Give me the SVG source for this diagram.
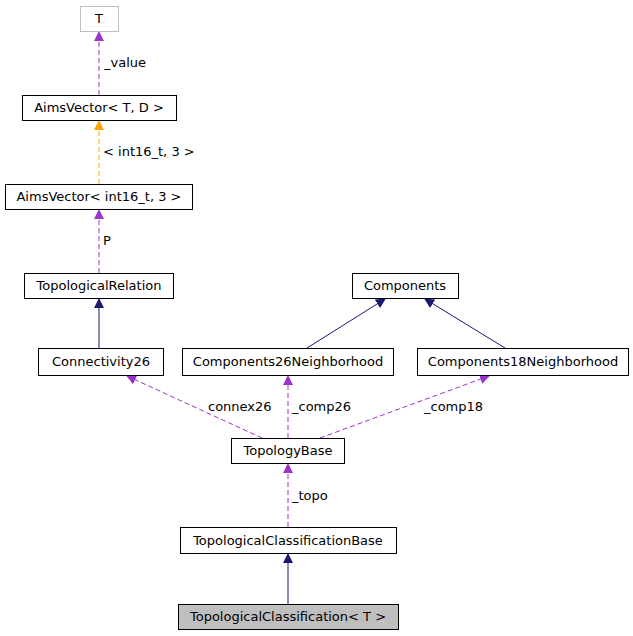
<svg xmlns="http://www.w3.org/2000/svg" width="633" height="636" viewBox="0 0 633 636">
<style>
text{font-family:"DejaVu Sans",sans-serif;font-size:13px;fill:#000}
.n{fill:#fff;stroke:#000;stroke-width:1}
.c{text-anchor:middle}
.p{stroke:#9a32cd;fill:none;stroke-dasharray:5,3}
.o{stroke:#ffa500;fill:none;stroke-dasharray:5,3}
.s{stroke:#191970;fill:none}
</style>
<defs>
<marker id="mp" markerWidth="10" markerHeight="10" refX="9" refY="5" orient="auto" markerUnits="userSpaceOnUse"><path d="M0,0 L10,5 L0,10 z" fill="#9a32cd"/></marker>
<marker id="mo" markerWidth="10" markerHeight="10" refX="9" refY="5" orient="auto" markerUnits="userSpaceOnUse"><path d="M0,0 L10,5 L0,10 z" fill="#ffa500"/></marker>
<marker id="ms" markerWidth="10" markerHeight="10" refX="9" refY="5" orient="auto" markerUnits="userSpaceOnUse"><path d="M0,0 L10,5 L0,10 z" fill="#191970"/></marker>
</defs>
<rect width="633" height="636" fill="#fff"/>
<g id="connectors">
<path class="p" d="M99,95 L99,32" marker-end="url(#mp)"/><text x="104" y="67">_value</text>
<path class="o" d="M99,184 L99,121" marker-end="url(#mo)"/><text x="103" y="156">&lt; int16_t, 3 &gt;</text>
<path class="p" d="M99,273 L99,210" marker-end="url(#mp)"/><text x="103" y="245">P</text>
<path class="s" d="M99,348 L99,299" marker-end="url(#ms)"/>
<path class="s" d="M307,348 L385,299" marker-end="url(#ms)"/>
<path class="s" d="M505,348 L425,299" marker-end="url(#ms)"/>
<path class="p" d="M262,438 L127,376" marker-end="url(#mp)"/><text x="208" y="411">connex26</text>
<path class="p" d="M288,438 L288,376" marker-end="url(#mp)"/><text x="292" y="411">_comp26</text>
<path class="p" d="M320,438 L489,376" marker-end="url(#mp)"/><text x="424" y="411">_comp18</text>
<path class="p" d="M288,527 L288,464" marker-end="url(#mp)"/><text x="292" y="500">_topo</text>
<path class="s" d="M288,604 L288,554" marker-end="url(#ms)"/>
</g>
<g id="T"><rect x="80.5" y="6.5" width="38" height="25" fill="#fff" stroke="#bfbfbf"/><text class="c" x="99" y="23">T</text></g>
<g id="AimsVectorTD"><rect class="n" x="22.5" y="95.5" width="154" height="25"/><text class="c" x="99" y="112">AimsVector&lt; T, D &gt;</text></g>
<g id="AimsVectorInt"><rect class="n" x="5.5" y="184.5" width="187" height="25"/><text class="c" x="99" y="201">AimsVector&lt; int16_t, 3 &gt;</text></g>
<g id="TopologicalRelation"><rect class="n" x="24.5" y="273.5" width="149" height="25"/><text class="c" x="99" y="290">TopologicalRelation</text></g>
<g id="Components"><rect class="n" x="352.5" y="273.5" width="106" height="25"/><text class="c" x="405" y="290">Components</text></g>
<g id="Connectivity26"><rect class="n" x="38.5" y="348.5" width="125" height="27"/><text class="c" x="101" y="366">Connectivity26</text></g>
<g id="Components26Neighborhood"><rect class="n" x="182.5" y="348.5" width="211" height="27"/><text class="c" x="288" y="366">Components26Neighborhood</text></g>
<g id="Components18Neighborhood"><rect class="n" x="417.5" y="348.5" width="211" height="27"/><text class="c" x="523" y="366">Components18Neighborhood</text></g>
<g id="TopologyBase"><rect class="n" x="231.5" y="438.5" width="113" height="25"/><text class="c" x="288" y="455">TopologyBase</text></g>
<g id="TopologicalClassificationBase"><rect class="n" x="180.5" y="527.5" width="216" height="26"/><text class="c" x="288" y="545">TopologicalClassificationBase</text></g>
<g id="TopologicalClassification"><rect x="178.5" y="604.5" width="220" height="25" fill="#bfbfbf" stroke="#000"/><text class="c" x="288" y="621">TopologicalClassification&lt; T &gt;</text></g>
</svg>
